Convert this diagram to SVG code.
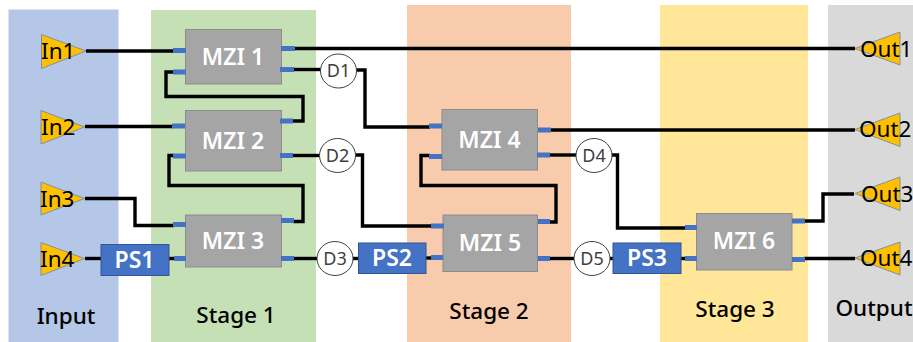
<svg xmlns="http://www.w3.org/2000/svg" width="913" height="342" viewBox="0 0 913 342">
<style>
text{font-family:"Noto Sans","Open Sans","Liberation Sans",sans-serif}
.w{fill:none;stroke:#000;stroke-width:3.4;stroke-linejoin:miter}
.m{fill:#a5a5a5;stroke:#8c8c8c;stroke-width:1}
.mt{fill:#fff;font-size:23px;font-weight:600;text-anchor:middle}
.p{fill:#4472c4}
.ps{fill:#4472c4;stroke:#2f5597;stroke-width:1}
.pt{fill:#fff;font-size:23px;font-weight:600;text-anchor:middle}
.t{fill:#ffc000;stroke:#7f8fa9;stroke-width:1}
.tt{fill:#000;font-size:22.500px}
.c{fill:#fff;stroke:#404040;stroke-width:1}
.ct{fill:#404040;font-size:18px;text-anchor:middle}
.l{fill:#000;font-size:22.500px;font-weight:500;text-anchor:middle}
</style>
<g id="bands">
<rect x="8.500" y="9.500" width="110" height="333" fill="#b4c7e7"/>
<rect x="151" y="10" width="165" height="332" fill="#c5e0b4"/>
<rect x="407" y="5" width="164" height="337" fill="#f8cbad"/>
<rect x="660" y="5" width="148" height="337" fill="#ffe699"/>
<rect x="828" y="5" width="85" height="337" fill="#d9d9d9"/>
<text class="l" x="66" y="324">Input</text>
<text class="l" x="236" y="323">Stage 1</text>
<text class="l" x="489" y="319">Stage 2</text>
<text class="l" x="735" y="317">Stage 3</text>
<text class="l" x="874" y="316">Output</text>
</g>
<g id="connectors">
<path class="w" d="M86 51H174"/>
<path class="w" d="M294 48.500H855"/>
<path class="w" d="M293 69.500H321"/>
<path class="w" d="M174 72H166V96.500H303V121H292"/>
<path class="w" d="M85 126.500H173"/>
<path class="w" d="M174 155.500H169V185.500H303V221.500H293"/>
<path class="w" d="M292 155.500H320"/>
<path class="w" d="M85 198.500H135V225.500H174"/>
<path class="w" d="M85 258.500H102"/>
<path class="w" d="M168 258.500H175"/>
<path class="w" d="M293 258.500H318"/>
<path class="w" d="M356 70H365V127H430"/>
<path class="w" d="M355 155H362.500V226H432"/>
<path class="w" d="M352 258.500H359"/>
<path class="w" d="M425 258H432"/>
<path class="w" d="M550 130H855"/>
<path class="w" d="M549 155H577"/>
<path class="w" d="M430 155.500H421V185.500H556V222H549"/>
<path class="w" d="M549 258.500H575"/>
<path class="w" d="M611 155H617.500V228H686"/>
<path class="w" d="M609 258.500H614"/>
<path class="w" d="M680 258.500H686"/>
<path class="w" d="M804 221H823V194H854"/>
<path class="w" d="M804 258.500H855"/>
</g>
<g id="In1"><path class="t" d="M41.500 34.500V68.500L86 51Z"/><text class="tt" x="41" y="59">In1</text></g>
<g id="In2"><path class="t" d="M41 110.500V144L84.500 127Z"/><text class="tt" x="41" y="135">In2</text></g>
<g id="In3"><path class="t" d="M41 182V215L84.500 198.500Z"/><text class="tt" x="40" y="207">In3</text></g>
<g id="In4"><path class="t" d="M41 242.500V275.500L84.500 258.500Z"/><text class="tt" x="40" y="267">In4</text></g>
<g id="Out1"><path class="t" d="M900 32V65L855 48.500Z"/><text class="tt" x="860" y="57">Out1</text></g>
<g id="Out2"><path class="t" d="M900 113V146.500L855 129.500Z"/><text class="tt" x="859" y="137">Out2</text></g>
<g id="Out3"><path class="t" d="M900 177V210.500L855 193.500Z"/><text class="tt" x="861" y="202">Out3</text></g>
<g id="Out4"><path class="t" d="M900 242V275L855 258Z"/><text class="tt" x="860" y="266">Out4</text></g>
<g id="MZI1"><rect class="m" x="185.500" y="29.500" width="96" height="54.500"/><text class="mt" x="233" y="65">MZI 1</text>
<rect class="p" x="173" y="48" width="13" height="5"/><rect class="p" x="173" y="69.500" width="13" height="5"/><rect class="p" x="281" y="46" width="14" height="5"/><rect class="p" x="280" y="67" width="14" height="5"/></g>
<g id="MZI2"><rect class="m" x="185.500" y="110.500" width="96" height="60.500"/><text class="mt" x="233" y="149">MZI 2</text>
<rect class="p" x="172" y="123.500" width="13" height="5"/><rect class="p" x="173" y="153.500" width="13" height="5"/><rect class="p" x="280" y="118.500" width="13" height="5"/><rect class="p" x="280" y="153" width="13" height="5"/></g>
<g id="MZI3"><rect class="m" x="185.500" y="215" width="96" height="52"/><text class="mt" x="233" y="249">MZI 3</text>
<rect class="p" x="173" y="222" width="13" height="5"/><rect class="p" x="174" y="256" width="12" height="5"/><rect class="p" x="281" y="218" width="13" height="5"/><rect class="p" x="281" y="256" width="13" height="5"/></g>
<g id="MZI4"><rect class="m" x="442" y="109.500" width="95.500" height="60.500"/><text class="mt" x="489.500" y="148">MZI 4</text>
<rect class="p" x="429" y="123.500" width="13" height="5"/><rect class="p" x="429" y="154" width="13" height="5"/><rect class="p" x="538" y="127.500" width="13" height="5"/><rect class="p" x="537" y="152.500" width="13" height="5"/></g>
<g id="MZI5"><rect class="m" x="443" y="215" width="94.500" height="56.500"/><text class="mt" x="490" y="251">MZI 5</text>
<rect class="p" x="431" y="223.500" width="13" height="5"/><rect class="p" x="431" y="255" width="12" height="5"/><rect class="p" x="538" y="219" width="12" height="5"/><rect class="p" x="538" y="256" width="12" height="5"/></g>
<g id="MZI6"><rect class="m" x="696.500" y="213.500" width="95.500" height="56.500"/><text class="mt" x="744" y="249">MZI 6</text>
<rect class="p" x="685" y="225" width="12" height="5"/><rect class="p" x="685" y="256" width="12" height="5"/><rect class="p" x="792" y="218.500" width="13" height="5"/><rect class="p" x="792" y="257" width="13" height="5"/></g>
<g id="PS1"><rect class="ps" x="101" y="244.500" width="68" height="31"/><text class="pt" x="134.500" y="268">PS1</text></g>
<g id="PS2"><rect class="ps" x="358.500" y="243" width="67.500" height="30.500"/><text class="pt" x="392" y="266">PS2</text></g>
<g id="PS3"><rect class="ps" x="613" y="243" width="68" height="30.500"/><text class="pt" x="647" y="266">PS3</text></g>
<g id="D1"><ellipse class="c" cx="338.500" cy="71" rx="18" ry="17"/><text class="ct" x="338.500" y="77">D1</text></g>
<g id="D2"><ellipse class="c" cx="337.500" cy="155.500" rx="18" ry="17"/><text class="ct" x="337.500" y="161.500">D2</text></g>
<g id="D3"><ellipse class="c" cx="335" cy="258.500" rx="18" ry="17"/><text class="ct" x="335" y="264.500">D3</text></g>
<g id="D4"><ellipse class="c" cx="594" cy="155.500" rx="18" ry="17"/><text class="ct" x="594" y="161.500">D4</text></g>
<g id="D5"><ellipse class="c" cx="592" cy="258.500" rx="18" ry="17"/><text class="ct" x="592" y="264.500">D5</text></g>
</svg>
